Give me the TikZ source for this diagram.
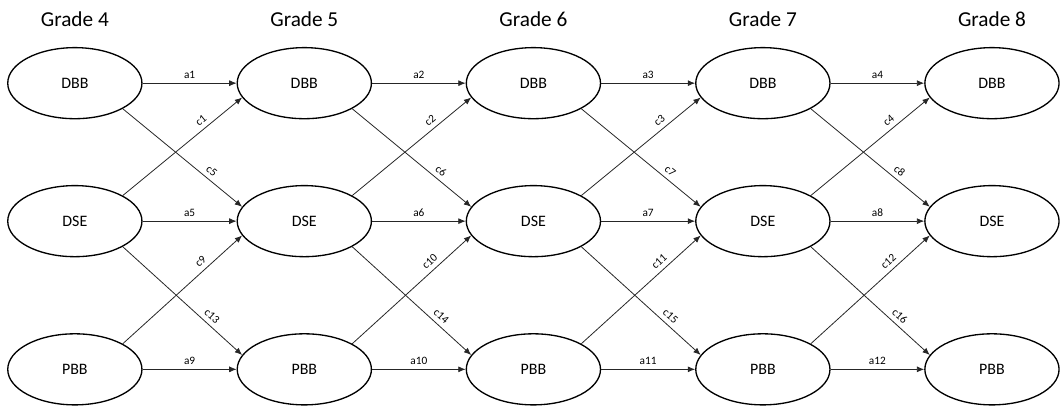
\documentclass[tikz,border=0pt]{standalone}
\usepackage{fontspec}
\setmainfont{Carlito}
\usepackage{tikz}
\usetikzlibrary{shapes.geometric, arrows.meta, positioning}

\begin{document}
\begin{tikzpicture}[
    grade/.style={font=\fontsize{16}{19}\selectfont},
    state/.style={ellipse, draw, line width=1pt, minimum width=3.55cm,
                  minimum height=1.88cm, font=\fontsize{12}{14}\selectfont},
    link/.style={draw=black!85, line width=0.6pt, -{Latex[length=5.5pt,width=4.5pt]}},
    lbl/.style={font=\fontsize{8.5}{10}\selectfont, sloped, above}
]
    \useasboundingbox (-1.98,2.2) rectangle (26.06,-8.57);

    % grade headings
    \node[grade] (head4) at (0,1.69) {Grade 4};
    \node[grade] (head5) at (6.07,1.69) {Grade 5};
    \node[grade] (head6) at (12.13,1.69) {Grade 6};
    \node[grade] (head7) at (18.20,1.69) {Grade 7};
    \node[grade] (head8) at (24.26,1.69) {Grade 8};

    % states per grade
    \node[state] (dbb4) at (0,0) {DBB};
    \node[state] (dse4) at (0,-3.65) {DSE};
    \node[state] (pbb4) at (0,-7.57) {PBB};
    \node[state] (dbb5) at (6.07,0) {DBB};
    \node[state] (dse5) at (6.07,-3.65) {DSE};
    \node[state] (pbb5) at (6.07,-7.57) {PBB};
    \node[state] (dbb6) at (12.13,0) {DBB};
    \node[state] (dse6) at (12.13,-3.65) {DSE};
    \node[state] (pbb6) at (12.13,-7.57) {PBB};
    \node[state] (dbb7) at (18.20,0) {DBB};
    \node[state] (dse7) at (18.20,-3.65) {DSE};
    \node[state] (pbb7) at (18.20,-7.57) {PBB};
    \node[state] (dbb8) at (24.26,0) {DBB};
    \node[state] (dse8) at (24.26,-3.65) {DSE};
    \node[state] (pbb8) at (24.26,-7.57) {PBB};

    % grade 4 -> grade 5
    \draw[link] (dbb4.east) -- node[lbl] {a1} (dbb5.west);
    \draw[link] (dse4.north east) -- node[lbl, pos=0.7] {c1} (dbb5.193);
    \draw[link] (dbb4.south east) -- node[lbl, pos=0.7] {c5} (dse5.167);
    \draw[link] (dse4.east) -- node[lbl] {a5} (dse5.west);
    \draw[link] (pbb4.north east) -- node[lbl, pos=0.7] {c9} (dse5.193);
    \draw[link] (dse4.south east) -- node[lbl, pos=0.7] {c13} (pbb5.167);
    \draw[link] (pbb4.east) -- node[lbl] {a9} (pbb5.west);

    % grade 5 -> grade 6
    \draw[link] (dbb5.east) -- node[lbl] {a2} (dbb6.west);
    \draw[link] (dse5.north east) -- node[lbl, pos=0.7] {c2} (dbb6.193);
    \draw[link] (dbb5.south east) -- node[lbl, pos=0.7] {c6} (dse6.167);
    \draw[link] (dse5.east) -- node[lbl] {a6} (dse6.west);
    \draw[link] (pbb5.north east) -- node[lbl, pos=0.7] {c10} (dse6.193);
    \draw[link] (dse5.south east) -- node[lbl, pos=0.7] {c14} (pbb6.167);
    \draw[link] (pbb5.east) -- node[lbl] {a10} (pbb6.west);

    % grade 6 -> grade 7
    \draw[link] (dbb6.east) -- node[lbl] {a3} (dbb7.west);
    \draw[link] (dse6.north east) -- node[lbl, pos=0.7] {c3} (dbb7.193);
    \draw[link] (dbb6.south east) -- node[lbl, pos=0.7] {c7} (dse7.167);
    \draw[link] (dse6.east) -- node[lbl] {a7} (dse7.west);
    \draw[link] (pbb6.north east) -- node[lbl, pos=0.7] {c11} (dse7.193);
    \draw[link] (dse6.south east) -- node[lbl, pos=0.7] {c15} (pbb7.167);
    \draw[link] (pbb6.east) -- node[lbl] {a11} (pbb7.west);

    % grade 7 -> grade 8
    \draw[link] (dbb7.east) -- node[lbl] {a4} (dbb8.west);
    \draw[link] (dse7.north east) -- node[lbl, pos=0.7] {c4} (dbb8.193);
    \draw[link] (dbb7.south east) -- node[lbl, pos=0.7] {c8} (dse8.167);
    \draw[link] (dse7.east) -- node[lbl] {a8} (dse8.west);
    \draw[link] (pbb7.north east) -- node[lbl, pos=0.7] {c12} (dse8.193);
    \draw[link] (dse7.south east) -- node[lbl, pos=0.7] {c16} (pbb8.167);
    \draw[link] (pbb7.east) -- node[lbl] {a12} (pbb8.west);
\end{tikzpicture}
\end{document}
